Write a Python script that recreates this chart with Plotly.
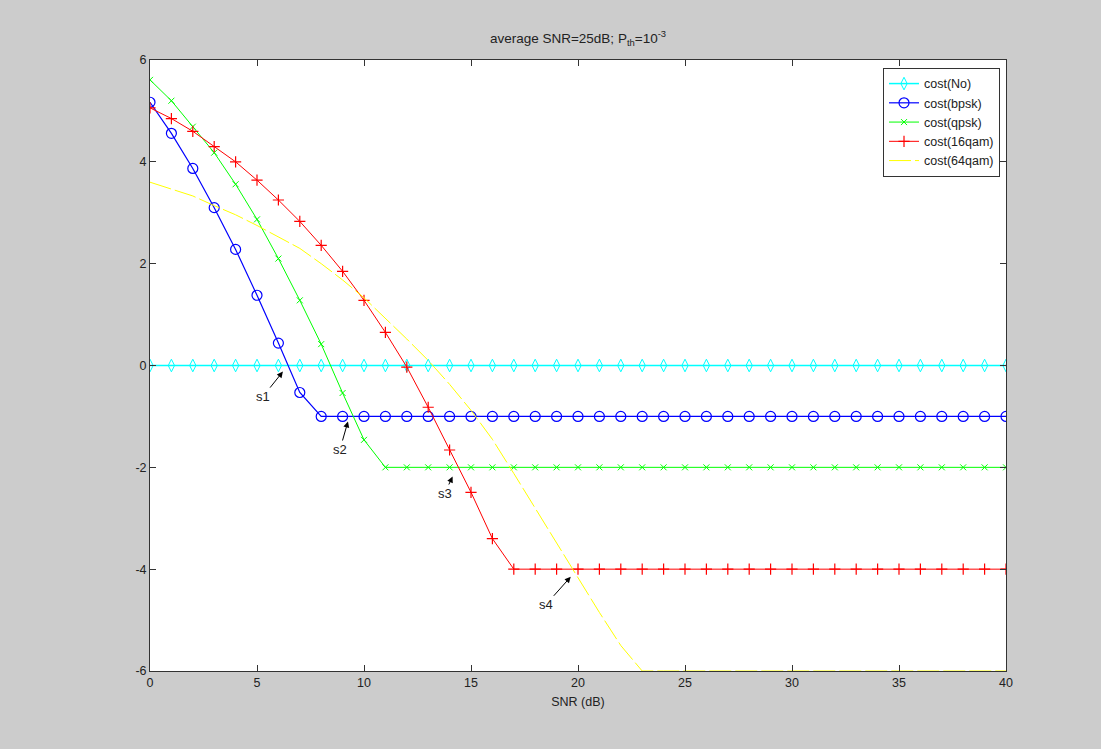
import plotly.graph_objects as go

snr = list(range(0, 41))

cost_no = [0] * 41
cost_bpsk = [5.17, 4.56, 3.87, 3.10, 2.28, 1.38, 0.44, -0.53] + [-1] * 33
cost_qpsk = [5.61, 5.20, 4.69, 4.18, 3.56, 2.87, 2.10, 1.28, 0.42, -0.54, -1.46] + [-2] * 30
cost_16qam = [5.06, 4.85, 4.60, 4.30, 4.00, 3.64, 3.25, 2.83, 2.36, 1.85, 1.28,
              0.65, -0.03, -0.82, -1.66, -2.49, -3.40] + [-4] * 24
cost_64qam = [3.60, 3.47, 3.33, 3.14, 2.96, 2.75, 2.52, 2.30, 2.00, 1.68, 1.33,
              0.93, 0.52, 0.10, -0.37, -0.88, -1.45, -2.12, -2.80, -3.48, -4.18,
              -4.85, -5.50] + [-6] * 18

series_names = ["cost(No)", "cost(bpsk)", "cost(qpsk)", "cost(16qam)", "cost(64qam)"]

x_ticks = [0, 5, 10, 15, 20, 25, 30, 35, 40]
y_ticks = [-6, -4, -2, 0, 2, 4, 6]

# annotations: label, arrow head position in data units
ann_labels = ["s1", "s2", "s3", "s4"]
ann_x = [6.21, 9.25, 14.14, 19.66]
ann_y = [-0.12, -1.10, -2.18, -4.15]

fig = go.Figure()

fig.add_trace(go.Scatter(x=snr, y=cost_no, name=series_names[0], mode="lines+markers",
                         line=dict(color="#00ffff", width=1.5),
                         marker=dict(symbol="diamond-tall-open", size=9, color="#00ffff",
                                     line=dict(width=1, color="#00ffff"))))
fig.add_trace(go.Scatter(x=snr, y=cost_bpsk, name=series_names[1], mode="lines+markers",
                         line=dict(color="#0000ff", width=1.2),
                         marker=dict(symbol="circle-open", size=10, color="#0000ff",
                                     line=dict(width=1.2, color="#0000ff"))))
fig.add_trace(go.Scatter(x=snr, y=cost_qpsk, name=series_names[2], mode="lines+markers",
                         line=dict(color="#00ff00", width=1),
                         marker=dict(symbol="x-thin-open", size=6, color="#00ff00",
                                     line=dict(width=1, color="#00ff00"))))
fig.add_trace(go.Scatter(x=snr, y=cost_16qam, name=series_names[3], mode="lines+markers",
                         line=dict(color="#ff0000", width=1),
                         marker=dict(symbol="cross-thin-open", size=8, color="#ff0000",
                                     line=dict(width=1.2, color="#ff0000"))))
fig.add_trace(go.Scatter(x=snr, y=cost_64qam, name=series_names[4], mode="lines",
                         line=dict(color="#ffff00", width=1, dash="22px,4px")))

offsets = [(-20, 25), (-8, 28), (-8, 17), (-25, 28)]
for lab, hx, hy, (ax, ay) in zip(ann_labels, ann_x, ann_y, offsets):
    fig.add_annotation(x=hx, y=hy, text=lab, showarrow=True, ax=ax, ay=ay,
                       arrowhead=2, arrowsize=1.2, arrowwidth=1, arrowcolor="black",
                       font=dict(size=13, color="#222222"))

axis_common = dict(showgrid=False, zeroline=False, showline=True, linecolor="#333333",
                   linewidth=1, mirror="ticks", ticks="inside", ticklen=6,
                   tickcolor="#333333", tickfont=dict(size=12.5, color="#222222"))

fig.update_xaxes(range=[0, 40], tickvals=x_ticks, ticktext=[str(v) for v in x_ticks],
                 title=dict(text="SNR (dB)", font=dict(size=12.5, color="#222222"), standoff=8),
                 **axis_common)
fig.update_yaxes(range=[-6, 6], tickvals=y_ticks, ticktext=[str(v) for v in y_ticks],
                 **axis_common)

fig.update_layout(
    width=1101, height=749,
    paper_bgcolor="#cccccc", plot_bgcolor="white",
    font=dict(family="Liberation Sans, Arial, sans-serif", size=12, color="#222222"),
    margin=dict(l=150, r=95, t=60, b=78),
    title=dict(text="average SNR=25dB; P<sub>th</sub>=10<sup>-3</sup>",
               x=(150 + 1006) / 2 / 1101, xanchor="center", y=1 - 38 / 749, yanchor="middle",
               font=dict(size=13.5, color="#222222")),
    legend=dict(x=0.993, y=0.987, xanchor="right", yanchor="top",
                bgcolor="white", bordercolor="#333333", borderwidth=1,
                font=dict(size=12.5, color="#222222"), tracegroupgap=0,
                itemwidth=30),
    showlegend=True,
)

fig.write_html("out.html", config={"displayModeBar": False},
               post_script="document.body.style.margin='0';")
